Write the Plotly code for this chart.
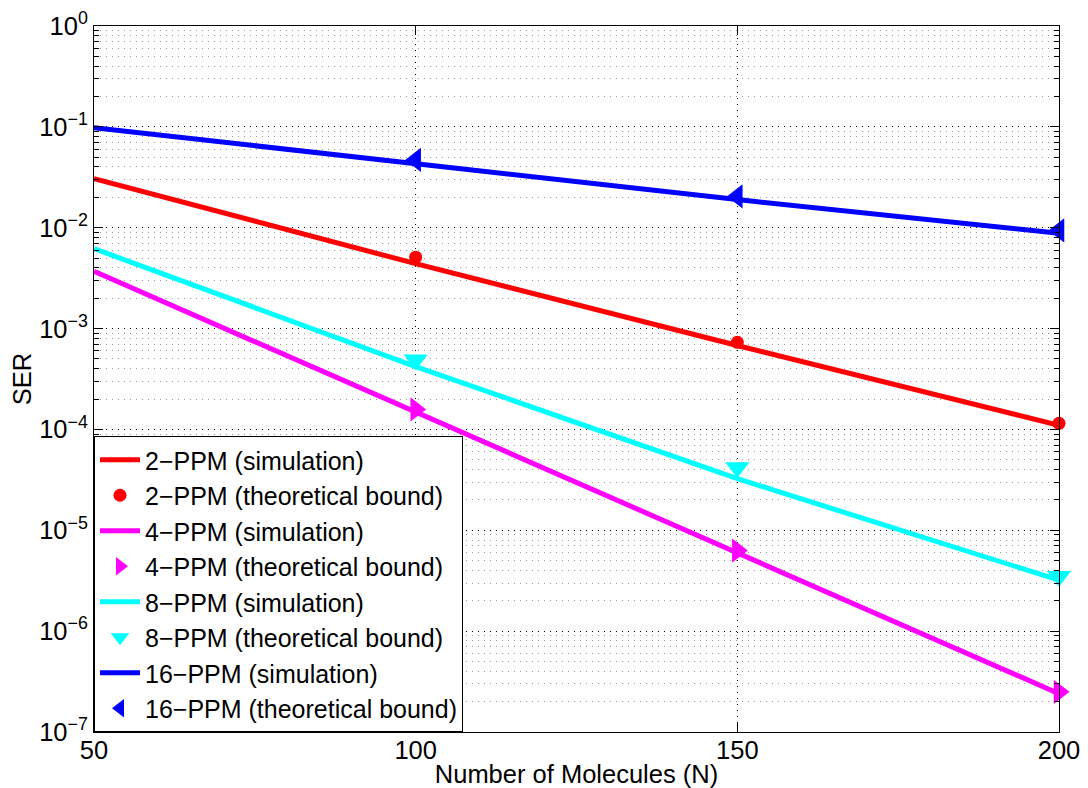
import plotly.graph_objects as go

# ---- data ----
n_sim = [50, 100, 150, 200]
n_bound = [100, 150, 200]

ppm2_sim = [3.07e-2, 4.4e-3, 6.8e-4, 1.1e-4]
ppm2_bound = [5.1e-3, 7.3e-4, 1.15e-4]
ppm4_sim = [3.7e-3, 1.49e-4, 6.1e-6, 2.4e-7]
ppm4_bound = [1.58e-4, 6.3e-6, 2.5e-7]
ppm8_sim = [6.2e-3, 4.2e-4, 3.25e-5, 3.2e-6]
ppm8_bound = [4.9e-4, 4.2e-5, 3.5e-6]
ppm16_sim = [9.8e-2, 4.32e-2, 1.9e-2, 8.8e-3]
ppm16_bound = [4.7e-2, 2.04e-2, 9.4e-3]

x_ticks = [50, 100, 150, 200]
y_exponents = [0, -1, -2, -3, -4, -5, -6, -7]

FONT = "Liberation Sans, Arial, Helvetica, sans-serif"
FS = 25.5

series = [
    ("2−PPM", "#ff0000", ppm2_sim, ppm2_bound, "circle", 13),
    ("4−PPM", "#ff00ff", ppm4_sim, ppm4_bound, "triangle-right", 21),
    ("8−PPM", "#00ffff", ppm8_sim, ppm8_bound, "triangle-down", 21),
    ("16−PPM", "#0000ff", ppm16_sim, ppm16_bound, "triangle-left", 21),
]

fig = go.Figure()
for i, (name, color, sim, bound, sym, msize) in enumerate(series):
    fig.add_trace(go.Scatter(
        x=n_sim, y=sim, mode="lines", name=f"{name} (simulation)",
        line=dict(color=color, width=5), legendgroup=f"g{2*i}",
    ))
    fig.add_trace(go.Scatter(
        x=n_bound, y=bound, mode="markers", name=f"{name} (theoretical bound)",
        marker=dict(color=color, symbol=sym, size=msize, line=dict(width=0)),
        cliponaxis=False, legendgroup=f"g{2*i+1}",
    ))

y_tickvals = [10.0 ** e for e in y_exponents]
y_ticktext = [f"10<sup>{'−' + str(-e) if e < 0 else str(e)}</sup>" for e in y_exponents]
minor_vals = [m * 10.0 ** e for e in range(-7, 0) for m in range(2, 10)]

# page body has an 8px default margin, so the figure is sized/offset to compensate
fig.update_layout(
    width=1080, height=780,
    margin=dict(l=86, r=29, t=18, b=56),
    paper_bgcolor="white", plot_bgcolor="white",
    font=dict(family=FONT, size=FS, color="black"),
    showlegend=True,
    legend=dict(
        x=0, y=0, xanchor="left", yanchor="bottom",
        bgcolor="white", bordercolor="black", borderwidth=1,
        font=dict(family=FONT, size=25, color="black"),
        tracegroupgap=0, itemwidth=40,
    ),
    xaxis=dict(
        range=[50, 200], tickvals=x_ticks, ticktext=[str(v) for v in x_ticks],
        ticks="inside", ticklen=9, tickcolor="black",
        showline=True, linecolor="black", linewidth=1, mirror="ticks",
        showgrid=True, gridcolor="black", griddash="1px,5px", gridwidth=1,
        zeroline=False, automargin=False, ticklabelstandoff=-5,
        title=dict(text="Number of Molecules (N)", standoff=7, font=dict(size=FS)),
        tickfont=dict(size=FS),
    ),
    yaxis=dict(
        type="log", range=[-7, 0], automargin=False,
        tickvals=y_tickvals, ticktext=y_ticktext,
        ticks="inside", ticklen=9, tickcolor="black",
        showline=True, linecolor="black", linewidth=1, mirror="ticks",
        showgrid=True, gridcolor="black", griddash="1px,5px", gridwidth=1,
        zeroline=False,
        minor=dict(tickvals=minor_vals, ticks="inside", ticklen=5, tickcolor="black",
                   showgrid=True, gridcolor="#999999", griddash="1px,5px", gridwidth=1),
        title=dict(text="SER", standoff=6, font=dict(size=FS)),
        tickfont=dict(size=FS),
    ),
)

fig.write_html("out.html")
